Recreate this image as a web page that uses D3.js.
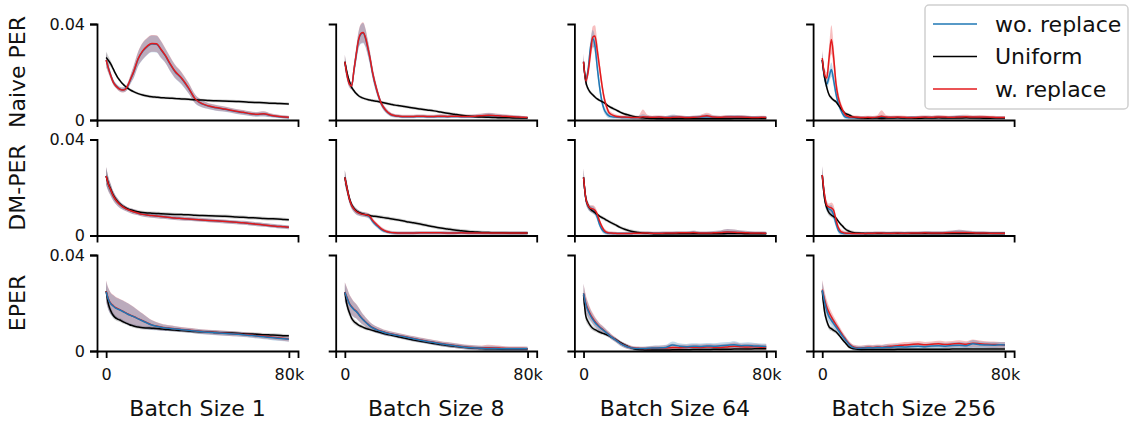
<!DOCTYPE html>
<html>
<head>
<meta charset="utf-8">
<script src="https://cdn.jsdelivr.net/npm/d3@7"></script>
<style>
  html, body { margin: 0; padding: 0; background: #fff; }
  svg { display: block; font-family: "DejaVu Sans", sans-serif; }
</style>
</head>
<body>
<script>
// ---- labels ----
const batchLabels = ["Batch Size 1", "Batch Size 8", "Batch Size 64", "Batch Size 256"];
const methodLabels = ["Naive PER", "DM-PER", "EPER"];
const seriesNames = ["wo. replace", "Uniform", "w. replace"];
const yTicks = [0, 0.04];
const yTickLabels = ["0", "0.04"];
const xTicks = [0, 80000];
const xTickLabels = ["0", "80k"];

// ---- training steps shared by every curve ----
const steps = [0, 1000, 2000, 3000, 4000, 5000, 6000, 7000, 8000, 9000, 10000, 11000, 12000,
  14000, 16000, 18000, 20000, 22000, 24000, 26000, 28000, 30000,
  33000, 36000, 39000, 42000, 45000, 48000, 51000, 54000, 57000, 60000, 63000, 66000,
  69000, 72000, 75000, 78000, 80000];

// ---- curves, in units of 1e-3; one row per batch size (1, 8, 64, 256) ----
const naiveBlue = [
  [25,21.6,18.6,16.1,14.6, 13.6,12.9,12.6,12.7,13.4, 15.3,17.6,19.8,25.3,28.6, 30.6,31.7,31.6,29.3,26.6, 23.3,20.3,17.3,13.3,8.7, 6.7,5.7,5.1,4.6,4.1, 3.5,3.1,2.6,2.3,2.5, 1.9,1.5,1.2,1.0],
  [24.3,18.6,15.1,14.3,20.8, 27.2,33.2,35.7,36.2,34.2, 30.2,25.7,20.2,12.3,6.7, 3.9,2.3,1.7,1.5,1.4, 1.4,1.4,1.5,1.4,1.4, 1.5,1.4,1.5,1.4,1.4, 1.5,1.7,1.9,1.7,1.5, 1.4,1.2,1.0,0.9],
  [24.3,16.5,21,30,34, 31,22,14,8,4.5, 2.8,1.8,1.4,1.2,1.1, 1.0,1.0,0.9,1.0,1.2, 1.1,1.0,1.1,1.0,1.3, 1.1,1.0,1.1,1.2,1.4, 1.1,1.0,1.2,1.3,1.2, 1.1,1.0,1.0,1.0],
  [25,18,15,18,21, 16.5,11,7,4.5,2.5, 1.3,1.0,0.9,0.9,0.9, 0.9,0.9,0.9,1.0,1.1, 1.0,1.0,1.0,0.9,1.0, 1.0,1.1,1.0,1.1,1.0, 1.1,1.2,1.1,1.1,1.0, 1.0,0.9,0.9,0.9]
];
const naiveUniform = [
  [26,24.8,23.4,21.5,19.5, 17.8,16.5,15.3,14.4,13.6, 12.9,12.3,11.8,11.0,10.4, 10.0,9.7,9.5,9.3,9.2, 9.1,9.0,8.8,8.6,8.4, 8.3,8.1,8.0,7.9,7.8, 7.7,7.6,7.4,7.3,7.2, 7.0,6.9,6.8,6.7],
  [24.2,19.5,16,13.6,12.2, 11.0,10.1,9.5,9.1,8.8, 8.5,8.3,8.1,7.8,7.4, 7.0,6.6,6.2,5.9,5.6, 5.3,5.0,4.6,4.2,3.8, 3.3,2.8,2.4,2.0,1.7, 1.4,1.2,1.1,1.0,0.9, 0.9,0.8,0.8,0.8],
  [24,16,13,11.5,10.5, 9.6,8.8,8.2,7.7,7.2, 6.5,5.8,5.2,4.3,3.3, 2.5,2.0,1.5,1.1,0.9, 0.7,0.6,0.5,0.5,0.5, 0.5,0.5,0.5,0.5,0.5, 0.5,0.5,0.5,0.6,0.6, 0.6,0.6,0.6,0.6],
  [25,18,13.5,10.5,9.2, 8.3,7.6,6.3,5.0,3.8, 2.8,2.4,2.0,1.1,0.9, 0.8,0.7,0.8,0.8,0.7, 0.8,0.8,0.9,0.8,0.8, 0.7,0.8,0.8,0.9,0.8, 0.8,0.8,0.9,0.8,0.8, 0.7,0.8,0.8,0.8]
];
const naiveRed = [
  [25,21.5,18.5,16,14.5, 13.5,12.8,12.5,12.6,13.5, 15.5,17.8,20,25.5,28.8, 30.8,31.9,31.8,29.5,26.8, 23.5,20.5,17.5,13.5,8.8, 6.8,5.8,5.2,4.7,4.2, 3.6,3.2,2.7,2.4,2.6, 2.0,1.6,1.3,1.1],
  [24.3,18.5,15,14.2,21, 27.5,33.5,36,36.5,34.5, 30.5,26,20.5,12.5,6.8, 4,2.4,1.8,1.6,1.5, 1.5,1.5,1.6,1.5,1.5, 1.6,1.5,1.6,1.5,1.5, 1.6,1.8,2.0,1.8,1.6, 1.5,1.3,1.1,1.0],
  [24.3,16.3,20,27.5,34.5, 35,29,22,15,9.3, 5.8,3.3,2.4,1.6,1.3, 1.2,1.1,1.0,1.0,1.4, 1.2,1.1,1.2,1.0,1.1, 1.2,1.0,1.1,1.3,1.8, 1.2,1.1,1.3,1.2,1.3, 1.1,1.0,1.1,1.0],
  [25.8,19,17.5,26,33.5, 26,15.4,9.5,6.2,4, 2.3,1.6,1.3,1.2,1.1, 1.0,1.1,1.0,1.2,1.6, 1.2,1.1,1.2,1.1,1.0, 1.1,1.2,1.1,1.3,1.2, 1.1,1.3,1.4,1.2,1.3, 1.2,1.1,1.0,1.0]
];
const naiveBlueSd = [
  [3,2,1.5,1.2,1, 1,1,1,1,1.2, 1.5,2,2.5,3,3.5, 3.5,3.5,3.5,3.5,3, 3,2.8,2.5,2.2,1.8, 1.5,1.2,1.2,1.1,1, 1,1,0.9,0.9,1, 0.8,0.7,0.7,0.7],
  [3,2,1.5,1.5,2.5, 3,3.5,4,4.2,3.8, 3.2,2.8,2.4,1.8,1.2, 1,0.8,0.7,0.7,0.7, 0.7,0.7,0.7,0.7,0.7, 0.8,0.7,0.7,0.7,0.7, 0.8,0.9,1,0.9,0.8, 0.7,0.7,0.6,0.6],
  [3.5,2,2.5,3,3.5, 3.5,3,2.5,2,1.5, 1.2,1,0.8,0.7,0.7, 0.7,0.7,0.7,0.7,1.2, 0.8,0.7,0.7,0.7,1, 0.8,0.7,0.7,0.8,1, 0.8,0.7,0.8,0.8,0.8, 0.7,0.7,0.7,0.7],
  [3.5,2.5,2,2.5,3, 2.5,2,1.5,1.2,1, 0.8,0.7,0.7,0.7,0.7, 0.7,0.7,0.7,0.7,1, 0.7,0.7,0.7,0.7,0.7, 0.7,0.7,0.7,0.8,0.7, 0.7,0.8,0.8,0.7,0.8, 0.7,0.7,0.7,0.7]
];
const naiveUniformSd = [
  [2.5,1.8,1.3,1,0.8, 0.7,0.7,0.6,0.6,0.6, 0.6,0.6,0.6,0.6,0.6, 0.6,0.6,0.6,0.6,0.6, 0.6,0.6,0.6,0.6,0.6, 0.6,0.6,0.6,0.6,0.6, 0.6,0.6,0.6,0.6,0.6, 0.6,0.6,0.6,0.6],
  [2.5,1.8,1.3,1,0.8, 0.7,0.6,0.6,0.6,0.6, 0.6,0.6,0.6,0.6,0.6, 0.6,0.6,0.6,0.6,0.6, 0.6,0.6,0.6,0.6,0.6, 0.6,0.6,0.6,0.6,0.6, 0.6,0.6,0.6,0.6,0.6, 0.6,0.6,0.6,0.6],
  [2.5,1.5,1,0.8,0.7, 0.6,0.6,0.6,0.6,0.6, 0.6,0.6,0.6,0.6,0.6, 0.6,0.6,0.6,0.6,0.6, 0.6,0.6,0.6,0.6,0.6, 0.6,0.6,0.6,0.6,0.6, 0.6,0.6,0.6,0.6,0.6, 0.6,0.6,0.6,0.6],
  [2.8,1.8,1.2,0.9,0.8, 0.7,0.6,0.6,0.6,0.6, 0.6,0.6,0.6,0.6,0.6, 0.6,0.6,0.6,0.6,0.6, 0.6,0.6,0.6,0.6,0.6, 0.6,0.6,0.6,0.6,0.6, 0.6,0.6,0.6,0.6,0.6, 0.6,0.6,0.6,0.6]
];
const naiveRedSd = [
  [3,2,1.5,1.2,1, 1,1,1,1,1.2, 1.5,2,2.5,3,3.5, 3.5,3.5,3.5,3.5,3, 3,2.8,2.5,2.2,1.8, 1.5,1.2,1.2,1.1,1, 1,1,0.9,0.9,1, 0.8,0.7,0.7,0.7],
  [3,2,1.5,1.5,2.5, 3,3.5,4,4.2,3.8, 3.2,2.8,2.4,1.8,1.2, 1,0.8,0.7,0.7,0.7, 0.7,0.7,0.7,0.7,0.7, 0.8,0.7,0.7,0.7,0.7, 0.8,0.9,1,0.9,0.8, 0.7,0.7,0.6,0.6],
  [3.5,2,2.5,3.5,4.5, 4.5,4,3,2.5,2, 1.5,1.2,1,0.8,0.7, 0.7,0.7,0.7,0.8,3, 1,0.7,0.7,0.7,1, 0.8,0.7,0.7,0.8,1.2, 0.8,0.7,0.8,0.8,0.8, 0.7,0.7,0.7,0.7],
  [3.5,2.5,2.5,4.5,6, 5,3.5,2.5,1.8,1.3, 1,0.8,0.7,0.7,0.7, 0.7,0.7,0.7,0.8,2.5, 0.9,0.7,0.7,0.7,0.7, 0.7,0.7,0.7,0.8,0.7, 0.7,0.8,0.8,0.7,0.8, 0.7,0.7,0.7,0.7]
];

const dmBlue = [
  [24.8,21.3,19.0,16.7,15.1, 13.9,12.9,12.1,11.5,11.0, 10.6,10.2,9.9,9.3,8.8, 8.5,8.3,8.1,7.9,7.7, 7.5,7.3,7.1,6.9,6.7, 6.5,6.3,6.1,5.9,5.7, 5.5,5.3,5.0,4.7,4.4, 4.1,3.8,3.6,3.4],
  [24.2,19.5,15.2,12.5,11.0, 10.0,9.4,9.0,8.8,8.6, 8.3,7.6,6.1,4.1,2.5, 1.6,1.2,1.0,1.0,1.0, 1.0,1.0,1.1,1.1,1.1, 1.1,1.0,1.0,1.1,1.0, 1.0,1.0,1.0,1.0,1.0, 1.0,1.0,1.0,1.0],
  [24.2,15.3,12.3,11.1,10.8, 9.8,7.6,4.6,2.6,1.5, 1.1,0.9,0.9,0.8,0.8, 0.8,0.8,0.9,0.9,1.0, 1.0,0.9,0.9,1.0,1.0, 1.1,1.1,1.2,1.0,1.0, 1.1,1.2,1.5,1.4,1.2, 1.1,1.0,1.0,0.9],
  [25.2,16.5,12,11,10.5, 8.5,5.0,2.2,1.2,0.9, 0.8,0.8,0.8,0.8,0.8, 0.8,0.9,0.9,1.0,1.0, 0.9,0.9,1.0,0.9,1.0, 1.0,1.1,1.0,1.0,1.1, 1.2,1.3,1.2,1.1,1.0, 1.0,0.9,0.9,0.9]
];
const dmUniform = [
  [24.8,21.5,19.3,17.0,15.4, 14.2,13.2,12.4,11.8,11.3, 10.9,10.6,10.3,9.9,9.6, 9.4,9.3,9.2,9.1,9.0, 8.9,8.8,8.7,8.6,8.4, 8.3,8.2,8.1,8.0,7.9, 7.7,7.6,7.4,7.3,7.1, 7.0,6.9,6.7,6.6],
  [24.2,19.5,15.4,12.8,11.3, 10.3,9.7,9.3,9.0,8.7, 8.5,8.3,8.1,7.9,7.6, 7.3,7.0,6.7,6.4,6.0, 5.6,5.3,4.8,4.2,3.6, 3.1,2.7,2.3,2.0,1.7, 1.5,1.3,1.2,1.1,1.1, 1.0,1.0,1.0,1.0],
  [24.2,15.5,12.5,11.0,10.2, 9.5,8.8,8.1,7.5,7.0, 6.4,5.9,5.4,4.4,3.4, 2.6,2.0,1.6,1.3,1.0, 0.9,0.8,0.7,0.7,0.7, 0.7,0.7,0.7,0.7,0.7, 0.7,0.7,0.8,0.8,0.8, 0.7,0.7,0.7,0.7],
  [25.2,15.5,11.5,9.4,8.5, 7.9,7.3,6.0,4.8,3.8, 2.8,2.1,1.7,1.2,1.0, 0.9,0.8,0.8,0.8,0.8, 0.8,0.8,0.8,0.8,0.8, 0.8,0.8,0.8,0.8,0.8, 0.8,0.8,0.8,0.8,0.8, 0.8,0.8,0.8,0.8]
];
const dmRed = [
  [24.8,21.3,19.0,16.7,15.1, 13.9,12.9,12.1,11.5,11.0, 10.6,10.2,9.9,9.3,8.8, 8.5,8.3,8.1,7.9,7.7, 7.5,7.3,7.1,6.9,6.7, 6.5,6.3,6.1,5.9,5.7, 5.5,5.3,5.0,4.7,4.4, 4.1,3.8,3.6,3.4],
  [24.2,19.5,15.2,12.5,11.0, 10.0,9.4,9.0,8.8,8.7, 8.5,7.9,6.5,4.5,2.8, 1.8,1.3,1.1,1.0,1.0, 1.0,1.0,1.1,1.1,1.1, 1.1,1.0,1.0,1.1,1.0, 1.0,1.0,1.0,1.0,1.0, 1.0,1.0,1.0,1.0],
  [24.2,15.5,12.5,11.3,11.1, 10.5,8.8,6.0,3.8,2.2, 1.4,1.1,1.0,0.9,0.8, 0.8,0.8,0.9,0.9,1.0, 1.0,0.9,0.9,1.0,1.0, 1.1,1.1,1.2,1.0,1.0, 1.1,1.2,1.5,1.4,1.2, 1.1,1.0,1.0,0.9],
  [25.2,17,12.6,11.8,11.5, 10.5,6.6,3.4,1.8,1.3, 1.0,0.9,0.9,0.8,0.8, 0.8,0.9,0.9,1.0,1.0, 0.9,0.9,1.0,0.9,1.0, 1.0,1.1,1.0,1.0,1.1, 1.2,1.3,1.2,1.1,1.0, 1.0,0.9,0.9,0.9]
];
// spread shared by both replacement variants
const dmReplaySd = [
  [3.8,3,2.5,2,1.8, 1.6,1.4,1.2,1.1,1, 1,1,1,0.9,0.9, 0.9,0.9,0.9,0.9,0.8, 0.8,0.8,0.8,0.8,0.8, 0.8,0.8,0.8,0.8,0.8, 0.8,0.8,0.8,0.8,0.8, 0.8,0.8,0.8,0.8],
  [3,2.2,1.8,1.5,1.3, 1.2,1.1,1,1,1, 1,1,1,0.9,0.8, 0.7,0.7,0.7,0.7,0.7, 0.7,0.7,0.7,0.7,0.7, 0.7,0.7,0.7,0.7,0.7, 0.7,0.7,0.7,0.7,0.7, 0.7,0.7,0.7,0.7],
  [3.8,2,1.5,1.3,1.5, 1.5,1.3,1.1,1,0.9, 0.8,0.7,0.7,0.7,0.7, 0.7,0.7,0.7,0.7,0.7, 0.7,0.7,0.7,0.7,0.7, 0.7,0.7,0.8,0.7,0.7, 0.8,0.9,1.2,1.1,0.9, 0.8,0.7,0.7,0.7],
  [3.8,2.5,1.8,1.5,2.2, 2,1.5,1.2,1,0.9, 0.8,0.7,0.7,0.7,0.7, 0.7,0.7,0.7,0.7,0.7, 0.7,0.7,0.7,0.7,0.7, 0.7,0.8,0.8,0.8,0.8, 0.9,1.1,0.9,0.8,0.8, 0.7,0.7,0.7,0.7]
];
const dmUniformSd = [
  [3.5,2.5,2,1.5,1.2, 1,0.9,0.8,0.8,0.7, 0.7,0.7,0.7,0.7,0.7, 0.7,0.7,0.7,0.7,0.7, 0.7,0.7,0.7,0.7,0.7, 0.7,0.7,0.7,0.7,0.7, 0.7,0.7,0.7,0.7,0.7, 0.7,0.7,0.7,0.7],
  [3,2.2,1.6,1.2,1, 0.9,0.8,0.7,0.7,0.7, 0.7,0.7,0.7,0.7,0.7, 0.7,0.7,0.7,0.7,0.7, 0.7,0.7,0.7,0.7,0.7, 0.7,0.7,0.7,0.7,0.7, 0.7,0.7,0.7,0.7,0.7, 0.7,0.7,0.7,0.7],
  [3.5,2,1.5,1.2,1, 0.9,0.8,0.7,0.7,0.7, 0.7,0.7,0.7,0.7,0.7, 0.7,0.7,0.7,0.7,0.7, 0.7,0.7,0.7,0.7,0.7, 0.7,0.7,0.7,0.7,0.7, 0.7,0.7,0.7,0.7,0.7, 0.7,0.7,0.7,0.7],
  [3.5,2.2,1.5,1.2,1, 0.9,0.8,0.7,0.7,0.7, 0.7,0.7,0.7,0.7,0.7, 0.7,0.7,0.7,0.7,0.7, 0.7,0.7,0.7,0.7,0.7, 0.7,0.7,0.7,0.7,0.7, 0.7,0.7,0.7,0.7,0.7, 0.7,0.7,0.7,0.7]
];

const eperBlue = [
  [24.7,21.5,19.7,18.8,18.0, 17.5,17.1,16.6,16.1,15.6, 15.1,14.7,14.3,13.4,12.5, 11.6,10.8,10.3,9.9,9.6, 9.4,9.2,8.9,8.6,8.3, 8.0,7.8,7.6,7.4,7.2, 7.0,6.8,6.5,6.2,5.9, 5.6,5.3,5.1,4.9],
  [24.5,22,19.6,18.3,17.2, 16.5,15.3,14.1,13.0,12.1, 11.2,10.4,9.7,8.8,8.1, 7.5,7.1,6.7,6.3,5.9, 5.5,5.1,4.5,4.0,3.5, 3.0,2.6,2.2,1.8,1.5, 1.3,1.1,1.0,1.0,0.9, 0.9,0.9,0.9,0.9],
  [24,19.3,16.8,14.8,13.2, 11.9,10.8,9.9,9.1,8.4, 7.6,6.8,6.0,4.6,3.2, 2.2,1.5,1.1,1.0,1.0, 1.1,1.2,1.3,1.5,2.5, 2.0,1.8,2.0,1.9,2.1, 2.0,2.2,2.4,2.6,2.2, 2.3,2.1,2.0,1.9],
  [25.4,20.5,16.8,14.3,12.8, 11.4,10.1,8.7,7.3,6.0, 4.8,3.6,2.5,1.3,1.1, 1.2,1.4,1.3,1.5,1.4, 1.6,1.5,1.8,1.7,1.9, 2.0,1.8,2.1,2.2,2.0, 2.3,2.4,2.2,3.0,2.6, 2.5,2.4,2.6,2.5]
];
const eperUniform = [
  [25,19.5,16.8,15.0,13.9, 13.3,12.9,12.4,11.9,11.5, 11.1,10.7,10.4,10.0,9.7, 9.6,9.5,9.4,9.2,9.0, 8.9,8.7,8.5,8.3,8.1, 8.0,7.9,7.7,7.6,7.5, 7.4,7.2,7.1,7.0,6.8, 6.7,6.6,6.4,6.3],
  [24.5,19,15.9,13.6,12.3, 11.5,10.8,10.3,9.9,9.5, 9.2,8.9,8.6,8.1,7.6, 7.1,6.7,6.2,5.8,5.4, 5.0,4.6,4.1,3.6,3.1, 2.7,2.3,2.0,1.7,1.4, 1.2,1.0,0.9,0.9,0.8, 0.8,0.8,0.8,0.8],
  [23.5,14.5,12.2,10.6,9.5, 8.9,8.4,7.9,7.5,7.2, 6.8,6.4,5.9,4.8,3.6, 2.5,1.6,0.9,0.6,0.5, 0.4,0.4,0.4,0.4,0.5, 0.5,0.5,0.6,0.6,0.6, 0.7,0.7,0.7,0.8,0.8, 0.8,0.9,0.9,0.9],
  [25,16.5,12.5,10.1,9.3, 8.6,8.0,7.0,5.8,4.6, 3.5,2.4,1.5,0.9,0.7, 0.6,0.6,0.6,0.6,0.6, 0.6,0.6,0.7,0.7,0.7, 0.7,0.7,0.7,0.7,0.7, 0.8,0.8,0.8,0.8,0.8, 0.8,0.8,0.8,0.8]
];
const eperRed = [
  [24.9,21.7,19.9,19.0,18.2, 17.7,17.2,16.7,16.2,15.7, 15.2,14.8,14.4,13.5,12.6, 11.7,10.9,10.4,10.0,9.7, 9.5,9.3,9.0,8.7,8.4, 8.1,7.9,7.7,7.5,7.3, 7.1,6.9,6.7,6.4,6.1, 5.8,5.5,5.2,5.0],
  [24.6,22.2,19.8,18.5,17.4, 16.6,15.4,14.2,13.1,12.2, 11.3,10.5,9.8,8.9,8.2, 7.6,7.2,6.8,6.4,6.0, 5.6,5.2,4.6,4.1,3.6, 3.1,2.7,2.3,1.9,1.6, 1.4,1.3,1.4,1.3,1.1, 1.0,1.0,1.0,0.9],
  [24,19.8,17.3,15.3,13.7, 12.3,11.1,10.1,9.3,8.5, 7.7,6.9,6.1,4.7,3.3, 2.3,1.6,1.2,1.1,1.0, 1.0,1.1,1.2,1.3,1.5, 1.4,1.5,1.6,1.5,1.7, 1.6,1.5,1.7,2.0,1.8, 1.7,1.8,1.6,1.7],
  [25.6,21.5,18.2,16,14.2, 12.5,11,9.5,8.0,6.5, 5.2,3.9,2.8,1.6,1.3, 1.4,1.6,1.5,1.7,1.6, 1.8,2.0,2.2,2.5,2.7, 2.9,2.6,2.8,3.0,2.7, 2.9,3.1,2.8,3.2,3.0, 2.8,2.7,2.6,2.5]
];
const eperReplaySd = [
  [4.5,4.5,4.5,4.5,4.5, 4.5,4.5,4.5,4.5,4.5, 4.5,4.3,4,3.5,3, 2.5,2,1.7,1.5,1.3, 1.2,1.1,1,1,1, 1,1,1,1,1, 1,1,1,1,1, 1,1,1,1],
  [4,4,3.8,3.5,3.2, 3,2.8,2.5,2.2,2, 1.8,1.6,1.5,1.3,1.2, 1.1,1,1,1,1, 1,1,1,1,1, 1,1,1,1,1, 1,1,1.2,1.1,1, 0.9,0.9,0.9,0.9],
  [4,3.5,3,2.5,2.2, 2,1.8,1.6,1.5,1.4, 1.3,1.2,1.1,1,1, 1,0.9,0.8,0.8,0.8, 0.9,1,1,1.1,1.5, 1.2,1.1,1.2,1.2,1.2, 1.2,1.3,1.3,1.5,1.2, 1.3,1.2,1.1,1.1],
  [4,3.5,3,2.5,2.2, 2,1.8,1.6,1.5,1.4, 1.3,1.2,1.1,1,1, 1,1,1,1,1, 1.1,1.1,1.1,1.2,1.2, 1.2,1.2,1.2,1.3,1.3, 1.3,1.4,1.3,1.6,1.4, 1.3,1.3,1.2,1.2]
];
const eperUniformSd = [
  [3,2,1.5,1.2,1, 0.9,0.8,0.8,0.7,0.7, 0.7,0.7,0.7,0.7,0.7, 0.7,0.7,0.7,0.7,0.7, 0.7,0.7,0.7,0.7,0.7, 0.7,0.7,0.7,0.7,0.7, 0.7,0.7,0.7,0.7,0.7, 0.7,0.7,0.7,0.7],
  [3,2,1.5,1.2,1, 0.9,0.8,0.8,0.7,0.7, 0.7,0.7,0.7,0.7,0.7, 0.7,0.7,0.7,0.7,0.7, 0.7,0.7,0.7,0.7,0.7, 0.7,0.7,0.7,0.7,0.7, 0.7,0.7,0.7,0.7,0.7, 0.7,0.7,0.7,0.7],
  [3,2,1.5,1.2,1, 0.9,0.8,0.8,0.7,0.7, 0.7,0.7,0.7,0.7,0.7, 0.7,0.7,0.7,0.7,0.7, 0.7,0.7,0.7,0.7,0.7, 0.7,0.7,0.7,0.7,0.7, 0.7,0.7,0.7,0.7,0.7, 0.7,0.7,0.7,0.7],
  [3,2,1.5,1.2,1, 0.9,0.8,0.8,0.7,0.7, 0.7,0.7,0.7,0.7,0.7, 0.7,0.7,0.7,0.7,0.7, 0.7,0.7,0.7,0.7,0.7, 0.7,0.7,0.7,0.7,0.7, 0.7,0.7,0.7,0.7,0.7, 0.7,0.7,0.7,0.7]
];

const UNIT = 1e-3;
const colours = { blue: "#1f77b4", black: "#000000", red: "#e31a1c" };

// per method: [mean, spread] for wo. replace, Uniform, w. replace, plus draw order
const methods = [
  { blue: [naiveBlue, naiveBlueSd], black: [naiveUniform, naiveUniformSd], red: [naiveRed, naiveRedSd], order: ["blue", "black", "red"] },
  { blue: [dmBlue, dmReplaySd], black: [dmUniform, dmUniformSd], red: [dmRed, dmReplaySd], order: ["blue", "black", "red"] },
  { blue: [eperBlue, eperReplaySd], black: [eperUniform, eperUniformSd], red: [eperRed, eperReplaySd], order: ["black", "red", "blue"] }
];
// shaded spreads are stacked red, grey, blue so the overlap reads as mauve
const bandOrder = ["red", "black", "blue"];

// ---- layout ----
const W = 1131, H = 423;
const panelW = 201, panelH = 96;
const colLeft = batchLabels.map((_, c) => 97 + c * 238.7);
const rowTop = methodLabels.map((_, r) => 24 + r * 115.5);

const svg = d3.select("body").append("svg").attr("width", W).attr("height", H);
const defs = svg.append("defs");

methods.forEach((m, r) => {
  batchLabels.forEach((bl, c) => {
    const left = colLeft[c], top = rowTop[r];
    const x = d3.scaleLinear().domain([-4000, 84000]).range([left, left + panelW]);
    const y = d3.scaleLinear().domain([0, 0.04]).range([top + panelH, top]);
    const clipId = `clip-${r}-${c}`;
    defs.append("clipPath").attr("id", clipId)
      .append("rect").attr("x", left).attr("y", top - 2).attr("width", panelW).attr("height", panelH + 2);

    const g = svg.append("g").attr("clip-path", `url(#${clipId})`);
    const series = key => steps.map((s, i) => ({
      step: s,
      mean: m[key][0][c][i] * UNIT,
      sd: m[key][1][c][i] * UNIT
    }));
    const area = d3.area().curve(d3.curveMonotoneX)
      .x(d => x(d.step)).y0(d => y(Math.max(0, d.mean - d.sd))).y1(d => y(d.mean + d.sd));
    const line = d3.line().curve(d3.curveMonotoneX).x(d => x(d.step)).y(d => y(d.mean));

    // spreads first
    bandOrder.forEach(key => {
      g.append("path").datum(series(key)).attr("d", area)
        .attr("fill", key === "black" ? "#444" : colours[key])
        .attr("fill-opacity", key === "black" ? 0.26 : 0.28)
        .attr("stroke", "none");
    });
    // then mean curves
    m.order.forEach(key => {
      g.append("path").datum(series(key)).attr("d", line)
        .attr("fill", "none").attr("stroke", colours[key])
        .attr("stroke-width", 1.5).attr("stroke-linejoin", "round");
    });

    // axes: left and bottom spines only
    const yAxis = d3.axisLeft(y).tickSizeOuter(0).tickSize(7).tickPadding(5);
    if (c === 0) yAxis.tickValues(yTicks).tickFormat((d, i) => yTickLabels[i]);
    else yAxis.tickValues([]);
    const ya = svg.append("g").attr("transform", `translate(${left},0)`).call(yAxis);

    const xAxis = d3.axisBottom(x).tickSizeOuter(0).tickSize(7).tickPadding(11);
    if (r === methods.length - 1) xAxis.tickValues(xTicks).tickFormat((d, i) => xTickLabels[i]);
    else xAxis.tickValues([]);
    const xa = svg.append("g").attr("transform", `translate(0,${top + panelH})`).call(xAxis);

    [ya, xa].forEach(a => {
      a.select(".domain").attr("stroke", "#000").attr("stroke-width", 1.8);
      a.selectAll(".tick line").attr("stroke", "#000").attr("stroke-width", 1.8);
      a.selectAll(".tick text").attr("fill", "#111").style("font-size", "16px")
        .style("font-family", "DejaVu Sans, sans-serif");
    });

    if (r === methods.length - 1) {
      svg.append("text").attr("x", left + panelW / 2).attr("y", 416)
        .attr("text-anchor", "middle").style("font-size", "22px").attr("fill", "#111")
        .text(bl);
    }
  });

  svg.append("text")
    .attr("transform", `translate(25,${rowTop[r] + panelH / 2}) rotate(-90)`)
    .attr("text-anchor", "middle").style("font-size", "22px").attr("fill", "#111")
    .text(methodLabels[r]);
});

// ---- legend ----
const legend = svg.append("g");
legend.append("rect").attr("x", 925).attr("y", 5).attr("width", 203).attr("height", 104)
  .attr("rx", 4).attr("fill", "#fff").attr("fill-opacity", 0.85)
  .attr("stroke", "#d0d0d0").attr("stroke-width", 1.5);
const legendKeys = ["blue", "black", "red"];
seriesNames.forEach((name, i) => {
  const ly = 24 + i * 32.5;
  legend.append("line").attr("x1", 933).attr("x2", 977).attr("y1", ly).attr("y2", ly)
    .attr("stroke", colours[legendKeys[i]]).attr("stroke-width", 1.5);
  legend.append("text").attr("x", 995).attr("y", ly).attr("dy", "0.35em")
    .style("font-size", "22px").attr("fill", "#111").text(name);
});
</script>
</body>
</html>
